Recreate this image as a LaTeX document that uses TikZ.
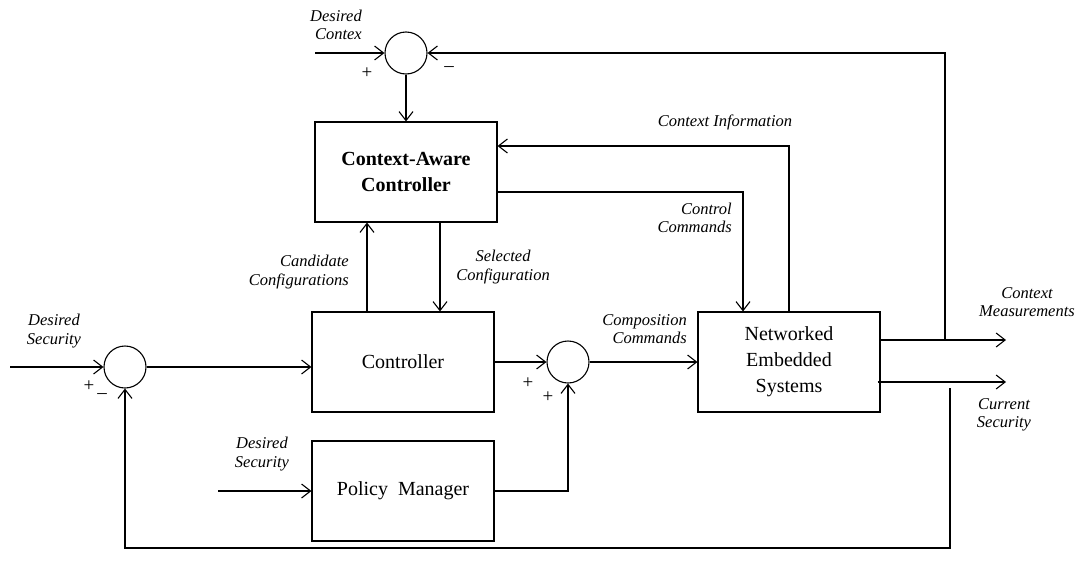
\documentclass[tikz,border=0pt]{standalone}
\usepackage{fontspec}
\setmainfont{Liberation Serif}
\usetikzlibrary{arrows.meta,calc}

\tikzset{
  block/.style={draw, line width=1.1pt, minimum width=182pt, minimum height=100pt,
                inner sep=0pt, align=center, font=\fontsize{20}{26}\selectfont},
  sumnode/.style={draw, circle, line width=1.1pt, minimum size=42pt, inner sep=0pt},
  wire/.style={line width=1.1pt},
  arr/.style={wire, -{Straight Barb[length=9pt,width=14pt,line width=1.1pt]}},
  lbl/.style={inner sep=0pt, font=\fontsize{16.5}{18.5}\selectfont\itshape},
  sgn/.style={inner sep=0pt, font=\fontsize{19}{19}\selectfont}
}

\begin{document}
\begin{tikzpicture}[x=1pt, y=-1pt]
\useasboundingbox (0,0) rectangle (1081,581);

% blocks
\node[block] (cac) at (406,172)
  {\textbf{Context-Aware}\\\textbf{Controller}};
\node[block] (ctrl) at (403,362) {Controller};
\node[block] (pm) at (403,491) {Policy\ \ Manager};
\node[block] (nes) at (789,362) {Networked\\Embedded\\Systems};

% summing junctions
\node[sumnode] (s1) at (406,53) {};
\node[sumnode] (s2) at (125,367) {};
\node[sumnode] (s3) at (568,362) {};

% free ends and tap points
\coordinate (inCtx) at (315,53);
\coordinate (inSec) at (10,367);
\coordinate (inPol) at (218,491);
\coordinate (outCtx) at (1006,340);
\coordinate (outSec) at (1006,382);
\coordinate (tapCtx) at (945,340);
\coordinate (tapSec) at (950,388);
\coordinate (fbBot) at (950,548);
\coordinate (ciY) at (789,146);
\coordinate (ccY) at (743,192);

% top loop: desired context
\draw[arr] (inCtx) -- (s1.west);
\draw[arr] (tapCtx) |- (s1.east);
\draw[arr] (s1.south) -- (cac.north);

% context information and control commands
\draw[arr] (nes.north -| ciY) |- (cac.east |- ciY);
\draw[arr] (cac.east |- ccY) -| (nes.north -| ccY);

% configurations between controllers
\draw[arr] (ctrl.north -| 367,0) -- (cac.south -| 367,0);
\draw[arr] (cac.south -| 440,0) -- (ctrl.north -| 440,0);

% security loop
\draw[arr] (inSec) -- (s2.west);
\draw[arr] (s2.east) -- (ctrl.west |- s2.east);
\draw[arr] (ctrl.east |- s3.west) -- (s3.west);
\draw[arr] (inPol) -- (pm.west);
\draw[arr] (pm.east) -| (s3.south);
\draw[arr] (s3.east) -- (nes.west |- s3.east);

% outputs
\draw[arr] (nes.east |- outCtx) -- (outCtx);
\draw[arr] ($(nes.east |- outSec)+(-3,0)$) -- (outSec);
\draw[arr] (tapSec) -- (fbBot) -| (s2.south);

% labels
\node[lbl, anchor=east, align=right] at (362,25) {Desired\\Contex};
\node[lbl, align=center] at (54,331) {Desired\\Security};
\node[lbl, align=center] at (262,454) {Desired\\Security};
\node[lbl, anchor=east, align=right] at (349,272) {Candidate\\Configurations};
\node[lbl, align=center] at (503,267) {Selected\\Configuration};
\node[lbl] at (725,122) {Context Information};
\node[lbl, anchor=east, align=right] at (732,218) {Control\\Commands};
\node[lbl, anchor=east, align=right] at (687,329) {Composition\\Commands};
\node[lbl, align=center] at (1027,302) {Context\\Measurements};
\node[lbl, align=center] at (1004,415) {Current\\Security};

% signs
\node[sgn] at (367,73) {+};
\node[sgn] at (449,69) {\textendash};
\node[sgn] at (89,386) {+};
\node[sgn] at (102,396) {\textendash};
\node[sgn] at (528,383) {+};
\node[sgn] at (548,397) {+};
\end{tikzpicture}
\end{document}
